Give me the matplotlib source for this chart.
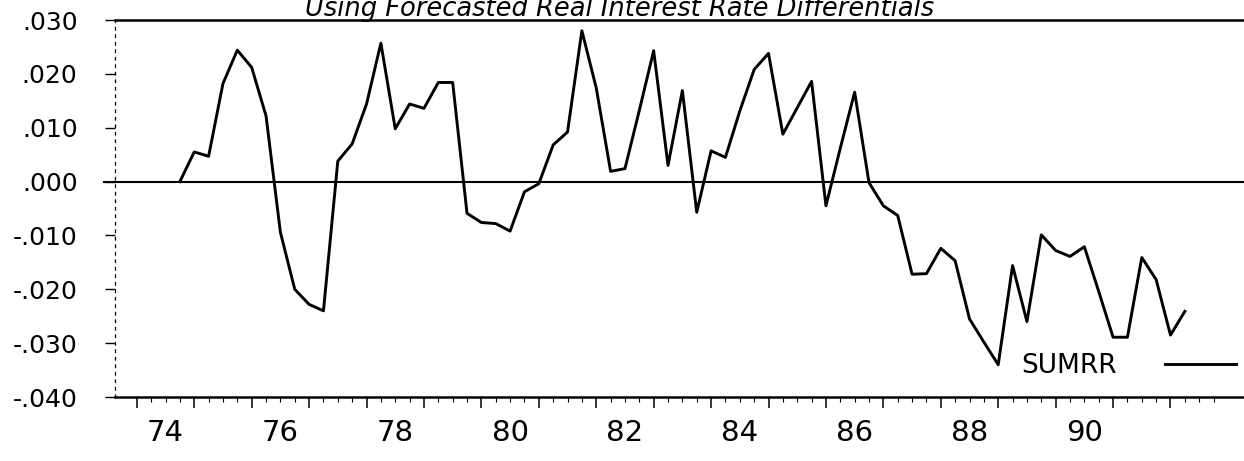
import numpy as np
import matplotlib
matplotlib.use("Agg")
import matplotlib.pyplot as plt
from matplotlib.ticker import FixedLocator, FuncFormatter

# quarterly series, 1974Q4 .. 1992Q2
start_year = 1974.75
sumrr = [0.000, 0.0055, 0.0047, 0.0182, 0.0244, 0.0212, 0.0122, -0.0094, -0.0200, -0.0228,
         -0.0240, 0.0038, 0.0070, 0.0144, 0.0257, 0.0098, 0.0144, 0.0136, 0.0184, 0.0184,
         -0.0059, -0.0076, -0.0078, -0.0092, -0.0019, -0.0004, 0.0068, 0.0092, 0.0280, 0.0174,
         0.0019, 0.0024, 0.0132, 0.0243, 0.0030, 0.0169, -0.0057, 0.0057, 0.0045, 0.0131,
         0.0208, 0.0238, 0.0088, 0.0137, 0.0186, -0.0045, 0.0062, 0.0166, -0.0002, -0.0045,
         -0.0063, -0.0172, -0.0171, -0.0124, -0.0147, -0.0255, -0.0298, -0.0340, -0.0156, -0.0260,
         -0.0099, -0.0128, -0.0139, -0.0121, -0.0204, -0.0289, -0.0289, -0.0141, -0.0182, -0.0285,
         -0.0241]
dates = start_year + 0.25 * np.arange(len(sumrr))

y_ticks = [0.030, 0.020, 0.010, 0.000, -0.010, -0.020, -0.030, -0.040]
year_labels = [74, 76, 78, 80, 82, 84, 86, 88, 90]
title = "Using Forecasted Real Interest Rate Differentials"

W, H = 1244, 461
fig = plt.figure(figsize=(W / 100, H / 100), dpi=100)
ax = fig.add_axes([115 / W, 64 / H, 1129 / W, 377 / H])

ax.plot(dates, sumrr, color="black", lw=2.1, label="SUMRR")
ax.plot([-0.01, 1.0], [0, 0], color="black", lw=1.5,
        transform=ax.get_yaxis_transform(), clip_on=False)

ax.set_xlim(1973.62, 1993.28)
ax.set_ylim(-0.040, 0.030)

for s in ["top", "bottom"]:
    ax.spines[s].set_linewidth(1.8)
ax.spines["right"].set_visible(False)
ax.spines["left"].set_linestyle((0, (2, 4)))
ax.spines["left"].set_linewidth(0.9)

ax.yaxis.set_major_locator(FixedLocator(y_ticks))
ax.yaxis.set_major_formatter(FuncFormatter(
    lambda v, p: ("-" if v < -1e-9 else "") + ("%.3f" % abs(v))[1:]))
ax.tick_params(axis="y", direction="out", length=7, width=1.0, pad=20, labelsize=18)

# year boundaries as major ticks, quarters as minor ticks
ax.xaxis.set_major_locator(FixedLocator(np.arange(1974, 1993)))
ax.xaxis.set_minor_locator(FixedLocator(np.arange(1974, 1993, 0.25)))
ax.tick_params(axis="x", which="major", direction="out", length=8, width=1.1, labelbottom=False)
ax.tick_params(axis="x", which="minor", direction="out", length=3.5, width=0.8)

# year labels centred in each year
sec = ax.secondary_xaxis("bottom")
sec.set_xticks([1900 + y + 0.5 for y in year_labels])
sec.set_xticklabels([str(y) for y in year_labels])
sec.tick_params(length=0, pad=16, labelsize=21)
sec.spines["bottom"].set_visible(False)

fig.text(620 / W, (H - 16) / H, title, ha="center", va="baseline",
         style="italic", fontsize=18.5)

ax.legend(loc="center right", bbox_to_anchor=(1236 / W, 1 - 366 / H),
          bbox_transform=fig.transFigure, frameon=False, markerfirst=False,
          fontsize=19, handlelength=2.7, handletextpad=1.8,
          borderpad=0, borderaxespad=0)

fig.savefig("out.png", dpi=100)
